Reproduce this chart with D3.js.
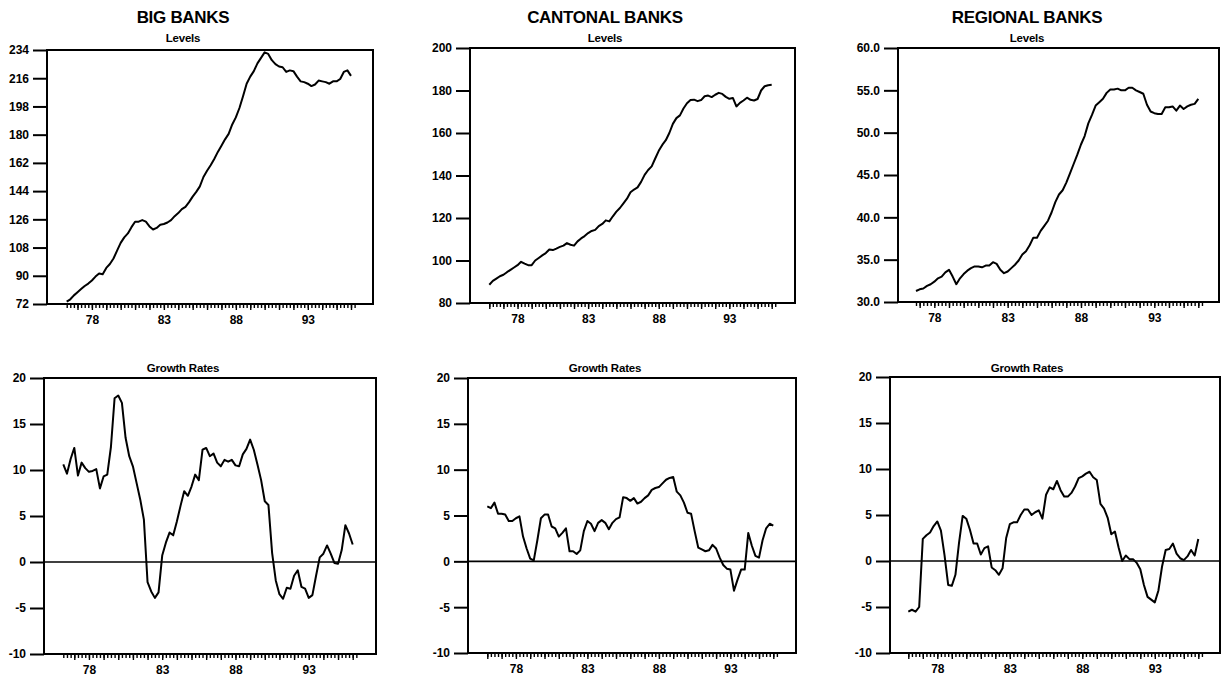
<!DOCTYPE html>
<html>
<head>
<meta charset="utf-8">
<script src="https://cdn.jsdelivr.net/npm/d3@7"></script>
<style>
  body { margin: 0; background: #fff; }
  svg { display: block; background: #fff; }
  text { font-family: "Liberation Sans", Arial, sans-serif; font-weight: bold; fill: #000; }
  .axis path { display: none; }
  .axis line { stroke: #000; stroke-width: 1.4; }
  .axis text { font-size: 12px; }
</style>
</head>
<body>
<div id="chart"></div>
<script>
// quarterly data, values
const bigLevelsStart = 1976.25;
const bigLevels = [73.5, 75, 77.5, 79.5, 81.5, 83.5, 85, 87, 89.5, 91.5,
  91, 95, 97.5, 101, 106, 111, 114.5, 117, 121, 124.5,
  124.5, 125.5, 124.5, 121.5, 119.5, 120.5, 122.5, 123, 124, 125.5,
  128, 130, 132.5, 134, 137, 140.5, 143.5, 147, 153, 157,
  160.5, 164.5, 169, 173, 177, 180.5, 186.5, 191, 197, 204.5,
  212.5, 217, 220.5, 225.5, 229, 232.5, 231.5, 227.5, 225, 223.5,
  223, 220, 221, 220.5, 217, 214, 213.5, 212.5, 211, 212,
  214.5, 214, 213.5, 212.5, 214, 214, 215.5, 220, 221, 217.5];

const bigGrowthStart = 1976.25;
const bigGrowth = [10.6, 9.6, 11.2, 12.4, 9.4, 10.8, 10.2, 9.8, 9.9, 10.1,
  8.0, 9.3, 9.5, 12.5, 17.8, 18.1, 17.3, 13.5, 11.5, 10.4,
  8.6, 6.8, 4.6, -2.2, -3.2, -3.9, -3.3, 0.7, 2.1, 3.2,
  2.9, 4.4, 6.1, 7.7, 7.2, 8.2, 9.5, 8.9, 12.2, 12.4,
  11.5, 11.8, 10.8, 10.4, 11.1, 10.9, 11.1, 10.5, 10.4, 11.7,
  12.3, 13.3, 12.2, 10.6, 8.9, 6.6, 6.2, 1.0, -2.0, -3.5,
  -4.0, -2.8, -2.9, -1.5, -0.9, -2.7, -2.9, -3.9, -3.6, -1.5,
  0.5, 0.9, 1.8, 0.9, -0.1, -0.2, 1.3, 4.0, 3.1, 1.9];

const cantonalLevelsStart = 1976.0;
const cantonalLevels = [88.6, 90.4, 91.5, 92.6, 93.3, 94.5, 95.6, 96.7, 97.8, 99.4,
  98.5, 97.8, 97.8, 100, 101.2, 102.4, 103.5, 105.2, 104.9, 105.6,
  106.4, 107, 108.2, 107.4, 107, 109, 110.4, 111.5, 112.9, 113.9,
  114.4, 116.2, 117.2, 118.9, 118.4, 120.8, 123, 124.7, 126.9, 129.1,
  132.1, 133.4, 134.4, 137, 140.3, 142.6, 144.3, 148, 151.6, 154.4,
  156.6, 160, 164.3, 167, 168.3, 171.5, 174, 175.5, 175.7, 175,
  175.5, 177.3, 177.6, 176.9, 178, 178.9, 178.4, 177, 176.1, 176.5,
  172.5, 174.2, 175.3, 176.6, 175.6, 175.3, 176, 180, 182, 182.5, 182.7];

const cantonalGrowthStart = 1976.0;
const cantonalGrowth = [6.0, 5.8, 6.4, 5.2, 5.2, 5.1, 4.4, 4.4, 4.7, 4.9,
  2.7, 1.4, 0.3, 0.1, 2.3, 4.7, 5.1, 5.1, 3.8, 3.6,
  2.7, 3.1, 3.6, 1.1, 1.1, 0.8, 1.2, 3.3, 4.4, 4.1,
  3.3, 4.2, 4.5, 4.2, 3.5, 4.2, 4.6, 4.8, 7.0, 6.9,
  6.6, 6.9, 6.3, 6.5, 6.9, 7.2, 7.8, 8.0, 8.1, 8.5,
  8.9, 9.1, 9.2, 7.6, 7.2, 6.4, 5.3, 5.2, 3.3, 1.5,
  1.3, 1.1, 1.2, 1.8, 1.4, 0.4, -0.4, -0.8, -0.9, -3.2,
  -2.0, -0.9, -0.9, 3.1, 1.7, 0.6, 0.4, 2.3, 3.6, 4.1, 3.9];

const regionalLevelsStart = 1976.75;
const regionalLevels = [31.3, 31.5, 31.6, 31.9, 32.1, 32.4, 32.8, 33.0, 33.5, 33.8,
  33.0, 32.1, 32.8, 33.3, 33.7, 34.0, 34.2, 34.2, 34.1, 34.3,
  34.3, 34.7, 34.5, 33.8, 33.4, 33.6, 34.0, 34.4, 34.9, 35.6,
  36.0, 36.7, 37.6, 37.6, 38.4, 39.0, 39.6, 40.6, 41.8, 42.7,
  43.2, 44.1, 45.2, 46.3, 47.4, 48.6, 49.6, 51.1, 52.1, 53.2,
  53.6, 54.0, 54.7, 55.1, 55.1, 55.2, 55.0, 55.0, 55.3, 55.3,
  55.0, 54.8, 54.6, 53.3, 52.5, 52.3, 52.2, 52.2, 53.0, 53.0,
  53.1, 52.6, 53.2, 52.8, 53.1, 53.3, 53.4, 54.0];

const regionalGrowthStart = 1976.0;
const regionalGrowth = [-5.5, -5.3, -5.5, -5.0, 2.4, 2.8, 3.1, 3.8, 4.3, 3.3,
  0.6, -2.6, -2.7, -1.5, 2.0, 4.9, 4.6, 3.4, 1.9, 1.9,
  0.7, 1.4, 1.6, -0.7, -1.0, -1.5, -0.8, 2.5, 4.0, 4.2,
  4.2, 5.0, 5.6, 5.6, 5.0, 5.3, 5.5, 4.6, 7.2, 8.0,
  7.8, 8.7, 7.7, 7.0, 7.0, 7.4, 8.1, 9.0, 9.2, 9.5,
  9.7, 9.1, 8.8, 6.2, 5.7, 4.7, 2.9, 3.2, 1.5, 0.0,
  0.6, 0.2, 0.2, -0.2, -0.9, -2.6, -3.9, -4.2, -4.5, -3.2,
  -0.6, 1.2, 1.3, 1.9, 0.8, 0.3, 0.1, 0.5, 1.2, 0.6, 2.4];

// ticks and labels
const bigLevelTicks = [72, 90, 108, 126, 144, 162, 180, 198, 216, 234];
const cantonalLevelTicks = [80, 100, 120, 140, 160, 180, 200];
const regionalLevelTicks = [30, 35, 40, 45, 50, 55, 60];
const growthTicks = [-10, -5, 0, 5, 10, 15, 20];
const yearLabels = {1978: "78", 1983: "83", 1988: "88", 1993: "93"};
const bankNames = ["BIG BANKS", "CANTONAL BANKS", "REGIONAL BANKS"];
const subTitles = ["Levels", "Growth Rates"];

const W = 1227, H = 677;
const svg = d3.select("#chart").append("svg").attr("width", W).attr("height", H);

// plain hyphen for negatives, like the original
function fmtInt(d) { return String(d); }
function fmtOne(d) { return d.toFixed(1); }

// panel layout (page pixels)
const panels = [
  {col: 0, row: 0, values: bigLevels, start: bigLevelsStart, box: {l: 47, r: 373, t: 50, b: 304},
   xr: [66.7, 351], yTicks: bigLevelTicks, fmt: fmtInt},
  {col: 1, row: 0, values: cantonalLevels, start: cantonalLevelsStart, box: {l: 470, r: 795, t: 48, b: 303},
   xr: [489.3, 771.7], yTicks: cantonalLevelTicks, fmt: fmtInt},
  {col: 2, row: 0, values: regionalLevels, start: regionalLevelsStart, box: {l: 898, r: 1219, t: 48, b: 302},
   xr: [916, 1198.3], yTicks: regionalLevelTicks, fmt: fmtOne},
  {col: 0, row: 1, values: bigGrowth, start: bigGrowthStart, box: {l: 44, r: 376, t: 378, b: 654},
   xr: [63.3, 352.7], yTicks: growthTicks, fmt: fmtInt, zero: true},
  {col: 1, row: 1, values: cantonalGrowth, start: cantonalGrowthStart, box: {l: 468, r: 796, t: 378, b: 653},
   xr: [487.3, 773.3], yTicks: growthTicks, fmt: fmtInt, zero: true},
  {col: 2, row: 1, values: regionalGrowth, start: regionalGrowthStart, box: {l: 890, r: 1220, t: 377, b: 653},
   xr: [908.3, 1198.3], yTicks: growthTicks, fmt: fmtInt, zero: true}
];
const colCenter = [183, 605, 1027];

bankNames.forEach(function(name, i) {
  svg.append("text").attr("x", colCenter[i]).attr("y", 23)
    .attr("text-anchor", "middle").style("font-size", "17px").style("letter-spacing", "-0.3px")
    .text(name);
});

panels.forEach(function(p) {
  let n = p.values.length;
  let pts = p.values.map(function(v, i) { return {t: p.start + i * 0.25, v: v}; });
  let end = pts[n - 1].t;
  let x = d3.scaleLinear().domain([p.start, end]).range(p.xr);
  let y = d3.scaleLinear().domain(d3.extent(p.yTicks)).range([p.box.b, p.box.t]);

  let g = svg.append("g");

  // subtitle
  g.append("text").attr("x", colCenter[p.col]).attr("y", p.row === 0 ? 42 : 372)
    .attr("text-anchor", "middle").style("font-size", "11.5px").style("letter-spacing", "-0.2px")
    .text(subTitles[p.row]);

  // frame
  g.append("rect").attr("x", p.box.l).attr("y", p.box.t)
    .attr("width", p.box.r - p.box.l).attr("height", p.box.b - p.box.t)
    .attr("fill", "none").attr("stroke", "#000").attr("stroke-width", 2);

  // y axis
  let yAxis = d3.axisLeft(y).tickValues(p.yTicks).tickFormat(p.fmt).tickSize(14).tickPadding(4).tickSizeOuter(0);
  g.append("g").attr("class", "axis").attr("transform", "translate(" + p.box.l + ",0)").call(yAxis)
    .selectAll("line").style("stroke-width", 2);

  // x axis: quarterly minor ticks, yearly ticks with labels
  let qTicks = d3.range(Math.floor(p.start * 4), Math.round(1996.25 * 4) + 1).map(function(q) { return q / 4; })
    .filter(function(t) { return t >= p.start - 0.3; });
  let xMinor = d3.axisBottom(x).tickValues(qTicks).tickFormat("").tickSize(4).tickSizeOuter(0);
  g.append("g").attr("class", "axis").attr("transform", "translate(0," + p.box.b + ")").call(xMinor);
  let years = d3.range(Math.ceil(p.start), 1997);
  let xMajor = d3.axisBottom(x).tickValues(years)
    .tickFormat(function(d) { return yearLabels[d] || ""; }).tickSize(6).tickPadding(5).tickSizeOuter(0);
  g.append("g").attr("class", "axis").attr("transform", "translate(0," + p.box.b + ")").call(xMajor);

  if (p.zero) {
    g.append("line").attr("x1", p.box.l).attr("x2", p.box.r)
      .attr("y1", y(0)).attr("y2", y(0))
      .attr("stroke", "#000").attr("stroke-width", 1.6);
  }

  let line = d3.line().x(function(d) { return x(d.t); }).y(function(d) { return y(d.v); });
  g.append("path").datum(pts).attr("d", line)
    .attr("fill", "none").attr("stroke", "#000").attr("stroke-width", 2).attr("stroke-linejoin", "round");
});
</script>
</body>
</html>
